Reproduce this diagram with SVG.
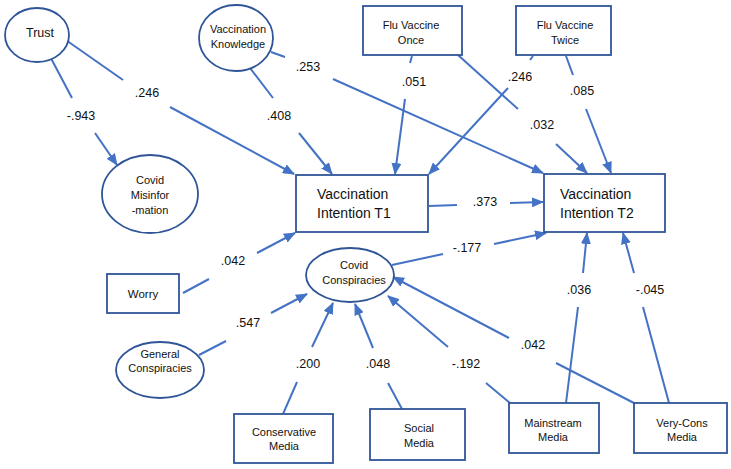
<svg xmlns="http://www.w3.org/2000/svg" width="731" height="469" viewBox="0 0 731 469">
<defs>
<marker id="ah" markerUnits="userSpaceOnUse" markerWidth="12" markerHeight="10" refX="11" refY="5" orient="auto">
<path d="M0,0 L12,5 L0,10 Z" fill="#4472C4"/>
</marker>
<style>
.n{fill:#fff;stroke:#2F5597;stroke-width:1.8}
.t{font-family:"Liberation Sans",Arial,sans-serif;font-size:11px;fill:#111;text-anchor:middle}
.big{font-family:"Liberation Sans",Arial,sans-serif;font-size:14px;fill:#111}
.c line{stroke:#4472C4;stroke-width:2}
.a{marker-end:url(#ah)}
.l{font-family:"Liberation Sans",Arial,sans-serif;font-size:12.5px;fill:#111;text-anchor:middle}
</style>
</defs>
<rect width="731" height="469" fill="#fff"/>
<g id="connectors" class="c">
<line x1="45" y1="47" x2="72" y2="98"/>
<line class="a" x1="95" y1="133" x2="117" y2="165"/>
<line x1="63" y1="38" x2="123" y2="80"/>
<line class="a" x1="170" y1="107" x2="294" y2="174"/>
<line x1="250" y1="68" x2="273" y2="98"/>
<line class="a" x1="299" y1="133" x2="332" y2="174"/>
<line x1="271" y1="52" x2="285" y2="57"/>
<line class="a" x1="333" y1="79" x2="543" y2="173"/>
<line x1="412" y1="56" x2="410" y2="63"/>
<line class="a" x1="405" y1="99" x2="395" y2="174"/>
<line x1="458" y1="55" x2="518" y2="109"/>
<line class="a" x1="556" y1="144" x2="587" y2="173"/>
<line x1="533" y1="56" x2="530" y2="60"/>
<line class="a" x1="508" y1="88" x2="429" y2="174"/>
<line x1="566" y1="56" x2="573" y2="75"/>
<line class="a" x1="586" y1="109" x2="611" y2="173"/>
<line x1="429" y1="206" x2="457" y2="205"/>
<line class="a" x1="510" y1="203" x2="543" y2="202"/>
<line x1="183" y1="293" x2="209" y2="279"/>
<line class="a" x1="257" y1="253" x2="295" y2="233"/>
<line x1="199" y1="355" x2="226" y2="341"/>
<line class="a" x1="271" y1="313" x2="307" y2="294"/>
<line x1="283" y1="414" x2="297" y2="382"/>
<line class="a" x1="312" y1="347" x2="333" y2="303"/>
<line x1="402" y1="409" x2="388" y2="383"/>
<line class="a" x1="373" y1="348" x2="355" y2="304"/>
<line x1="510" y1="403" x2="486" y2="383"/>
<line class="a" x1="448" y1="347" x2="388" y2="296"/>
<line x1="634" y1="403" x2="556" y2="363"/>
<line class="a" x1="509" y1="338" x2="393" y2="277"/>
<line x1="392" y1="265" x2="443" y2="254"/>
<line class="a" x1="494" y1="244" x2="546" y2="233"/>
<line x1="566" y1="403" x2="578" y2="307"/>
<line class="a" x1="583" y1="273" x2="587" y2="233"/>
<line x1="669" y1="403" x2="643" y2="307"/>
<line class="a" x1="634" y1="273" x2="623" y2="233"/>
</g>
<g id="labels">
<text class="l" x="81" y="120">-.943</text>
<text class="l" x="147" y="97">.246</text>
<text class="l" x="279" y="120">.408</text>
<text class="l" x="308" y="71">.253</text>
<text class="l" x="414" y="86">.051</text>
<text class="l" x="542" y="129">.032</text>
<text class="l" x="520" y="81">.246</text>
<text class="l" x="582" y="95">.085</text>
<text class="l" x="485" y="206">.373</text>
<text class="l" x="233" y="265">.042</text>
<text class="l" x="248" y="327">.547</text>
<text class="l" x="308" y="368">.200</text>
<text class="l" x="378" y="368">.048</text>
<text class="l" x="466" y="368">-.192</text>
<text class="l" x="533" y="349">.042</text>
<text class="l" x="467" y="252">-.177</text>
<text class="l" x="579" y="294">.036</text>
<text class="l" x="650" y="294">-.045</text>
</g>
<g id="trust"><ellipse class="n" cx="37" cy="35" rx="32" ry="27"/><text class="t" x="40" y="37" style="font-size:12.5px">Trust</text></g>
<g id="knowledge"><ellipse class="n" cx="236" cy="38" rx="37" ry="33"/><text class="t" x="238" y="33">Vaccination</text><text class="t" x="238" y="48">Knowledge</text></g>
<g id="fluonce"><rect class="n" x="363" y="6" width="99" height="49"/><text class="t" x="411" y="29">Flu Vaccine</text><text class="t" x="411" y="44">Once</text></g>
<g id="flutwice"><rect class="n" x="516" y="6" width="95" height="49"/><text class="t" x="565" y="29">Flu Vaccine</text><text class="t" x="565" y="44">Twice</text></g>
<g id="misinfo"><ellipse class="n" cx="150" cy="194" rx="48" ry="39"/><text class="t" x="150" y="184">Covid</text><text class="t" x="150" y="199">Misinfor</text><text class="t" x="150" y="214">-mation</text></g>
<g id="vit1"><rect class="n" x="296" y="175" width="132" height="57"/><text class="big" x="317" y="199">Vaccination</text><text class="big" x="317" y="218">Intention T1</text></g>
<g id="vit2"><rect class="n" x="544" y="174" width="121" height="58"/><text class="big" x="560" y="199">Vaccination</text><text class="big" x="560" y="218">Intention T2</text></g>
<g id="worry"><rect class="n" x="107" y="274" width="72" height="39"/><text class="t" x="143" y="298" style="font-size:11.5px">Worry</text></g>
<g id="covidconsp"><ellipse class="n" cx="350" cy="275" rx="44" ry="27"/><text class="t" x="354" y="269">Covid</text><text class="t" x="354" y="284">Conspiracies</text></g>
<g id="genconsp"><ellipse class="n" cx="160" cy="370" rx="44" ry="28"/><text class="t" x="160" y="358">General</text><text class="t" x="160" y="372">Conspiracies</text></g>
<g id="consmedia"><rect class="n" x="234" y="414" width="99" height="49"/><text class="t" x="284" y="436">Conservative</text><text class="t" x="284" y="450">Media</text></g>
<g id="socialmedia"><rect class="n" x="370" y="409" width="95" height="51"/><text class="t" x="419" y="432">Social</text><text class="t" x="419" y="447">Media</text></g>
<g id="mainstream"><rect class="n" x="509" y="403" width="90" height="50"/><text class="t" x="553" y="427">Mainstream</text><text class="t" x="553" y="441">Media</text></g>
<g id="verycons"><rect class="n" x="634" y="403" width="93" height="50"/><text class="t" x="682" y="427">Very-Cons</text><text class="t" x="682" y="441">Media</text></g>
</svg>
